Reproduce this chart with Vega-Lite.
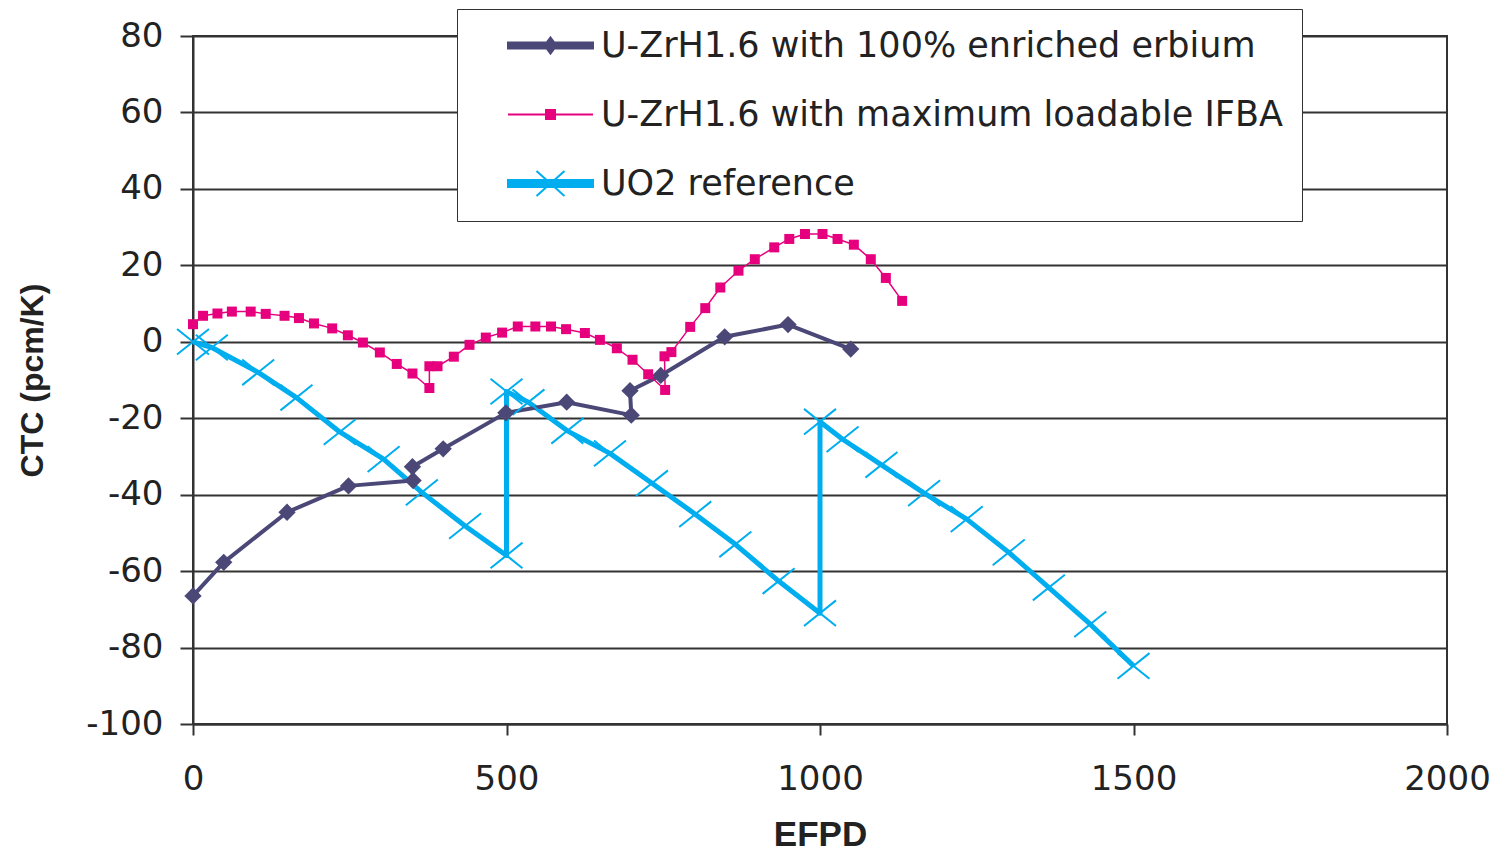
{
  "$schema": "https://vega.github.io/schema/vega-lite/v6.json",
  "width": 1254,
  "height": 688,
  "autosize": {"type": "none"},
  "padding": {"left": 193, "top": 36, "right": 54, "bottom": 128},
  "background": "white",
  "config": {
    "font": "DejaVu Sans",
    "view": {"stroke": "#333333", "strokeWidth": 2},
    "axis": {
      "domainColor": "#333333", "domainWidth": 2,
      "tickColor": "#333333", "tickWidth": 2,
      "gridColor": "#333333", "gridWidth": 2, "gridOpacity": 1,
      "labelFont": "DejaVu Sans", "labelFontSize": 34, "labelColor": "#222222",
      "labelFlush": false, "labelOverlap": false, "labelBound": false,
      "titleFont": "Liberation Sans", "titleFontWeight": "bold", "titleColor": "#222222"
    }
  },
  "data": {"values": [
    {"series": "U-ZrH1.6 with 100% enriched erbium", "efpd": 0, "ctc": -66.5},
    {"series": "U-ZrH1.6 with 100% enriched erbium", "efpd": 49, "ctc": -57.7},
    {"series": "U-ZrH1.6 with 100% enriched erbium", "efpd": 150, "ctc": -44.6},
    {"series": "U-ZrH1.6 with 100% enriched erbium", "efpd": 248, "ctc": -37.7},
    {"series": "U-ZrH1.6 with 100% enriched erbium", "efpd": 351, "ctc": -36.3},
    {"series": "U-ZrH1.6 with 100% enriched erbium", "efpd": 350, "ctc": -32.7},
    {"series": "U-ZrH1.6 with 100% enriched erbium", "efpd": 399, "ctc": -28.0},
    {"series": "U-ZrH1.6 with 100% enriched erbium", "efpd": 499, "ctc": -18.6},
    {"series": "U-ZrH1.6 with 100% enriched erbium", "efpd": 596, "ctc": -15.8},
    {"series": "U-ZrH1.6 with 100% enriched erbium", "efpd": 699, "ctc": -19.2},
    {"series": "U-ZrH1.6 with 100% enriched erbium", "efpd": 697, "ctc": -12.8},
    {"series": "U-ZrH1.6 with 100% enriched erbium", "efpd": 746, "ctc": -8.8},
    {"series": "U-ZrH1.6 with 100% enriched erbium", "efpd": 848, "ctc": 1.3},
    {"series": "U-ZrH1.6 with 100% enriched erbium", "efpd": 949, "ctc": 4.5},
    {"series": "U-ZrH1.6 with 100% enriched erbium", "efpd": 1049, "ctc": -1.9},
    {"series": "U-ZrH1.6 with maximum loadable IFBA", "efpd": 0, "ctc": 4.6},
    {"series": "U-ZrH1.6 with maximum loadable IFBA", "efpd": 16, "ctc": 6.8},
    {"series": "U-ZrH1.6 with maximum loadable IFBA", "efpd": 39, "ctc": 7.4},
    {"series": "U-ZrH1.6 with maximum loadable IFBA", "efpd": 62, "ctc": 7.9},
    {"series": "U-ZrH1.6 with maximum loadable IFBA", "efpd": 92, "ctc": 7.9},
    {"series": "U-ZrH1.6 with maximum loadable IFBA", "efpd": 116, "ctc": 7.3},
    {"series": "U-ZrH1.6 with maximum loadable IFBA", "efpd": 146, "ctc": 6.8},
    {"series": "U-ZrH1.6 with maximum loadable IFBA", "efpd": 169, "ctc": 6.2},
    {"series": "U-ZrH1.6 with maximum loadable IFBA", "efpd": 193, "ctc": 4.8},
    {"series": "U-ZrH1.6 with maximum loadable IFBA", "efpd": 222, "ctc": 3.5},
    {"series": "U-ZrH1.6 with maximum loadable IFBA", "efpd": 247, "ctc": 1.7},
    {"series": "U-ZrH1.6 with maximum loadable IFBA", "efpd": 271, "ctc": -0.2},
    {"series": "U-ZrH1.6 with maximum loadable IFBA", "efpd": 298, "ctc": -2.8},
    {"series": "U-ZrH1.6 with maximum loadable IFBA", "efpd": 325, "ctc": -5.8},
    {"series": "U-ZrH1.6 with maximum loadable IFBA", "efpd": 350, "ctc": -8.3},
    {"series": "U-ZrH1.6 with maximum loadable IFBA", "efpd": 377, "ctc": -12.1},
    {"series": "U-ZrH1.6 with maximum loadable IFBA", "efpd": 377, "ctc": -6.4},
    {"series": "U-ZrH1.6 with maximum loadable IFBA", "efpd": 390, "ctc": -6.4},
    {"series": "U-ZrH1.6 with maximum loadable IFBA", "efpd": 416, "ctc": -3.9},
    {"series": "U-ZrH1.6 with maximum loadable IFBA", "efpd": 441, "ctc": -0.8},
    {"series": "U-ZrH1.6 with maximum loadable IFBA", "efpd": 467, "ctc": 1.1},
    {"series": "U-ZrH1.6 with maximum loadable IFBA", "efpd": 493, "ctc": 2.4},
    {"series": "U-ZrH1.6 with maximum loadable IFBA", "efpd": 518, "ctc": 4.0},
    {"series": "U-ZrH1.6 with maximum loadable IFBA", "efpd": 546, "ctc": 4.0},
    {"series": "U-ZrH1.6 with maximum loadable IFBA", "efpd": 571, "ctc": 4.0},
    {"series": "U-ZrH1.6 with maximum loadable IFBA", "efpd": 595, "ctc": 3.3},
    {"series": "U-ZrH1.6 with maximum loadable IFBA", "efpd": 625, "ctc": 2.3},
    {"series": "U-ZrH1.6 with maximum loadable IFBA", "efpd": 649, "ctc": 0.5},
    {"series": "U-ZrH1.6 with maximum loadable IFBA", "efpd": 676, "ctc": -1.7},
    {"series": "U-ZrH1.6 with maximum loadable IFBA", "efpd": 701, "ctc": -4.7},
    {"series": "U-ZrH1.6 with maximum loadable IFBA", "efpd": 726, "ctc": -8.5},
    {"series": "U-ZrH1.6 with maximum loadable IFBA", "efpd": 753, "ctc": -12.6},
    {"series": "U-ZrH1.6 with maximum loadable IFBA", "efpd": 752, "ctc": -3.8},
    {"series": "U-ZrH1.6 with maximum loadable IFBA", "efpd": 763, "ctc": -2.7},
    {"series": "U-ZrH1.6 with maximum loadable IFBA", "efpd": 793, "ctc": 3.9},
    {"series": "U-ZrH1.6 with maximum loadable IFBA", "efpd": 817, "ctc": 8.8},
    {"series": "U-ZrH1.6 with maximum loadable IFBA", "efpd": 841, "ctc": 14.2},
    {"series": "U-ZrH1.6 with maximum loadable IFBA", "efpd": 870, "ctc": 18.6},
    {"series": "U-ZrH1.6 with maximum loadable IFBA", "efpd": 896, "ctc": 21.6},
    {"series": "U-ZrH1.6 with maximum loadable IFBA", "efpd": 927, "ctc": 24.7},
    {"series": "U-ZrH1.6 with maximum loadable IFBA", "efpd": 951, "ctc": 26.9},
    {"series": "U-ZrH1.6 with maximum loadable IFBA", "efpd": 976, "ctc": 28.2},
    {"series": "U-ZrH1.6 with maximum loadable IFBA", "efpd": 1004, "ctc": 28.2},
    {"series": "U-ZrH1.6 with maximum loadable IFBA", "efpd": 1028, "ctc": 26.9},
    {"series": "U-ZrH1.6 with maximum loadable IFBA", "efpd": 1054, "ctc": 25.4},
    {"series": "U-ZrH1.6 with maximum loadable IFBA", "efpd": 1081, "ctc": 21.6},
    {"series": "U-ZrH1.6 with maximum loadable IFBA", "efpd": 1105, "ctc": 16.7},
    {"series": "U-ZrH1.6 with maximum loadable IFBA", "efpd": 1131, "ctc": 10.7},
    {"series": "UO2 reference", "efpd": 0, "ctc": 0},
    {"series": "UO2 reference", "efpd": 30, "ctc": -1.5},
    {"series": "UO2 reference", "efpd": 104, "ctc": -8.0},
    {"series": "UO2 reference", "efpd": 165, "ctc": -14.6},
    {"series": "UO2 reference", "efpd": 234, "ctc": -23.6},
    {"series": "UO2 reference", "efpd": 304, "ctc": -30.7},
    {"series": "UO2 reference", "efpd": 365, "ctc": -39.4},
    {"series": "UO2 reference", "efpd": 434, "ctc": -48.2},
    {"series": "UO2 reference", "efpd": 500, "ctc": -55.9},
    {"series": "UO2 reference", "efpd": 500, "ctc": -13.0},
    {"series": "UO2 reference", "efpd": 535, "ctc": -15.8},
    {"series": "UO2 reference", "efpd": 597, "ctc": -23.3},
    {"series": "UO2 reference", "efpd": 665, "ctc": -29.2},
    {"series": "UO2 reference", "efpd": 732, "ctc": -37.0},
    {"series": "UO2 reference", "efpd": 801, "ctc": -45.1},
    {"series": "UO2 reference", "efpd": 865, "ctc": -53.0},
    {"series": "UO2 reference", "efpd": 934, "ctc": -62.6},
    {"series": "UO2 reference", "efpd": 1000, "ctc": -71.0},
    {"series": "UO2 reference", "efpd": 1000, "ctc": -20.9},
    {"series": "UO2 reference", "efpd": 1036, "ctc": -25.5},
    {"series": "UO2 reference", "efpd": 1098, "ctc": -32.2},
    {"series": "UO2 reference", "efpd": 1166, "ctc": -39.6},
    {"series": "UO2 reference", "efpd": 1234, "ctc": -46.4},
    {"series": "UO2 reference", "efpd": 1301, "ctc": -55.1},
    {"series": "UO2 reference", "efpd": 1365, "ctc": -64.3},
    {"series": "UO2 reference", "efpd": 1431, "ctc": -73.9},
    {"series": "UO2 reference", "efpd": 1500, "ctc": -84.8}
  ]},
  "encoding": {
    "x": {
      "field": "efpd", "type": "quantitative",
      "scale": {"domain": [0, 2000], "nice": false},
      "axis": {
        "title": "EFPD", "values": [0, 500, 1000, 1500, 2000], "grid": false,
        "format": "d",
        "tickSize": 11, "labelPadding": 27,
        "titleFontSize": 35, "titleY": 121, "titleBaseline": "alphabetic"
      }
    },
    "y": {
      "field": "ctc", "type": "quantitative",
      "scale": {"domain": [-100, 80], "nice": false},
      "axis": {
        "title": "CTC (pcm/K)", "values": [-100, -80, -60, -40, -20, 0, 20, 40, 60, 80],
        "grid": true, "tickSize": 13, "labelPadding": 17,
        "labelExpr": "'' + datum.value",
        "titleFontSize": 32, "titleAngle": -90, "titleX": -151, "titleY": 344,
        "titleAlign": "center", "titleBaseline": "alphabetic"
      }
    }
  },
  "layer": [
    {
      "transform": [{"filter": "datum.series === 'UO2 reference'"}],
      "mark": {"type": "line", "strokeJoin": "round", "strokeWidth": 5},
      "encoding": {
        "order": {"value": null},
        "color": {
          "field": "series", "type": "nominal",
          "scale": {
            "domain": ["U-ZrH1.6 with 100% enriched erbium", "U-ZrH1.6 with maximum loadable IFBA", "UO2 reference"],
            "range": ["#4B4878", "#E6007E", "#00AEEF"]
          },
          "legend": {
            "title": null, "orient": "none", "legendX": 264, "legendY": -27,
            "strokeColor": "#333333", "fillColor": "white", "padding": 19,
            "labelFont": "DejaVu Sans", "labelFontSize": 35, "labelColor": "#222222",
            "labelLimit": 1000, "rowPadding": 33,
            "symbolSize": 100, "symbolStrokeWidth": 2, "symbolOffset": 57, "labelOffset": 33,
            "encode": {
              "symbols": {
                "update": {
                  "shape": {"signal": "datum.value === 'UO2 reference' ? 'M-8.5,-0.7H8.5V0.7H-8.5Z M-2.8,-2.5L2.8,2.5 M-2.8,2.5L2.8,-2.5' : (datum.value === 'U-ZrH1.6 with maximum loadable IFBA' ? 'M-8.5,0H8.5 M-0.9,-0.9H0.9V0.9H-0.9Z' : 'M-8.5,-0.6H8.5V0.6H-8.5Z M0,-1.6L1.2,0L0,1.6L-1.2,0Z')"},
                  "fill": {"scale": "color", "field": "value"},
                  "stroke": {"scale": "color", "field": "value"},
                  "strokeWidth": {"value": 2},
                  "opacity": {"value": 1}
                }
              }
            }
          }
        }
      }
    },
    {
      "transform": [{"filter": "datum.series === 'U-ZrH1.6 with 100% enriched erbium'"}],
      "mark": {"type": "line", "strokeJoin": "round", "strokeWidth": 4},
      "encoding": {
        "order": {"value": null},
        "color": {"field": "series", "type": "nominal"}
      }
    },
    {
      "transform": [{"filter": "datum.series === 'U-ZrH1.6 with maximum loadable IFBA'"}],
      "mark": {"type": "line", "strokeJoin": "round", "strokeWidth": 1.5},
      "encoding": {
        "order": {"value": null},
        "color": {"field": "series", "type": "nominal"}
      }
    },
    {
      "transform": [{"filter": "datum.series === 'UO2 reference'"}],
      "mark": {"type": "point", "shape": "M-1,-0.8L1,0.8M-1,0.8L1,-0.8", "filled": false, "size": 1024, "color": "#00AEEF", "strokeWidth": 2, "opacity": 1},
      "encoding": {}
    },
    {
      "transform": [{"filter": "datum.series === 'U-ZrH1.6 with 100% enriched erbium'"}],
      "mark": {"type": "point", "shape": "diamond", "filled": true, "size": 300, "color": "#4B4878", "opacity": 1},
      "encoding": {}
    },
    {
      "transform": [{"filter": "datum.series === 'U-ZrH1.6 with maximum loadable IFBA'"}],
      "mark": {"type": "point", "shape": "square", "filled": true, "size": 100, "color": "#E6007E", "opacity": 1},
      "encoding": {}
    }
  ]
}
